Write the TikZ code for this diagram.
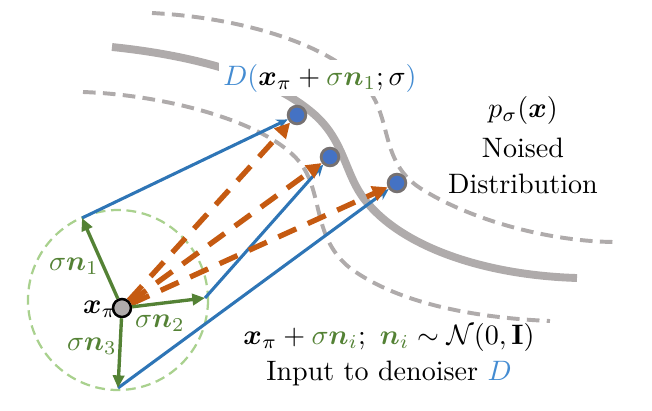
\documentclass[tikz,border=0pt]{standalone}
\usepackage{amsmath,bm}
\usetikzlibrary{arrows.meta}
\definecolor{cblue}{RGB}{46,117,182}
\definecolor{clblue}{RGB}{68,140,210}
\definecolor{corange}{RGB}{197,90,17}
\definecolor{cgreen}{RGB}{84,130,53}
\definecolor{clgreen}{RGB}{169,209,142}
\definecolor{cgrey}{RGB}{175,171,171}
\definecolor{cdot}{RGB}{68,114,196}
\definecolor{cdotb}{RGB}{118,113,113}
\pgfdeclarelayer{background}
\pgfsetlayers{background,main}
\begin{document}
\begin{tikzpicture}[x=0.356pt,y=-0.356pt,
  bound/.style={cgrey,line width=2.8pt},
  bounddash/.style={cgrey,line width=1.4pt,dash pattern=on 4.5pt off 2.6pt},
  noisevec/.style={cgreen,line width=1.2pt,-{Triangle[length=4.5pt,width=4pt]}},
  bluearrow/.style={cblue,line width=1.1pt,-{Stealth[length=4pt,width=3.6pt]}},
  orangearrow/.style={corange,line width=1.9pt,dash pattern=on 7pt off 4.5pt,-{Triangle[length=5.4pt,width=5.4pt]}},
  dot/.style={circle,fill=cdot,draw=cdotb,line width=1pt,minimum size=6.3pt,inner sep=0pt},
  origin/.style={circle,fill=cgrey,draw=black,line width=0.9pt,minimum size=6.4pt,inner sep=0pt},
  lbl/.style={inner sep=1pt}]
\useasboundingbox (0,0) rectangle (652,410);

% nodes
\node[origin] (xp) at (122,308) {};
\coordinate (n1) at (82,218);
\coordinate (n2) at (205,298);
\coordinate (n3) at (118,388);
\node[dot] (d1) at (297,115) {};
\node[dot] (d2) at (330,157) {};
\node[dot] (d3) at (397,183) {};

\begin{pgfonlayer}{background}
  \draw[bound] (112,47) .. controls (190,55) and (270,75) .. (315,115)
     .. controls (345,142) and (345,175) .. (365,200)
     .. controls (400,245) and (480,275) .. (577,278);
  \draw[bounddash] (152,13) .. controls (250,18) and (350,50) .. (375,100)
     .. controls (390,130) and (385,165) .. (420,188)
     .. controls (470,220) and (550,242) .. (617,242);
  \draw[bounddash] (83,92) .. controls (170,95) and (280,125) .. (305,170)
     .. controls (322,200) and (315,240) .. (350,268)
     .. controls (400,305) and (480,318) .. (550,321);
  \draw[clgreen,line width=0.8pt,dash pattern=on 3.5pt off 2pt] (118,300) circle[radius=90];
\end{pgfonlayer}

% blue arrows
\draw[bluearrow] (n1) -- (d1);
\draw[bluearrow] (n2) -- (d2);
\draw[bluearrow] (n3) -- (d3);
% orange dashed arrows
\draw[orangearrow] (xp) -- (d1);
\draw[orangearrow] (xp) -- (d2);
\draw[orangearrow] (xp) -- (d3);
% noise vectors
\draw[noisevec] (xp) -- (n1);
\draw[noisevec] (xp) -- (n2);
\draw[noisevec] (xp) -- (n3);

% labels
\node[lbl] (lxp) at (100,309) {$\bm{x}_\pi$};
\node[lbl,text=cgreen] (ln1) at (74,266) {$\sigma\bm{n}_1$};
\node[lbl,text=cgreen] (ln2) at (160,323) {$\sigma\bm{n}_2$};
\node[lbl,text=cgreen] (ln3) at (92,346) {$\sigma\bm{n}_3$};
\node[fill=white,inner sep=1.5pt] (ld) at (320,78) {$\color{clblue}D(\color{black}\bm{x}_\pi+\color{cgreen}\sigma\bm{n}_1\color{black};\sigma\color{clblue})$};
\node[lbl] (lp) at (523,110) {$p_\sigma(\bm{x})$};
\node[lbl] (lno) at (523,148) {Noised};
\node[lbl] (ldi) at (523,184) {Distribution};
\node[lbl] (lin) at (389,337) {$\bm{x}_\pi+\color{cgreen}\sigma\bm{n}_i\color{black};\ \color{cgreen}\bm{n}_i\color{black}\sim\mathcal{N}(0,\mathbf{I})$};
\node[lbl] (lde) at (389,373) {Input to denoiser $\color{clblue}D$};
\end{tikzpicture}
\end{document}
